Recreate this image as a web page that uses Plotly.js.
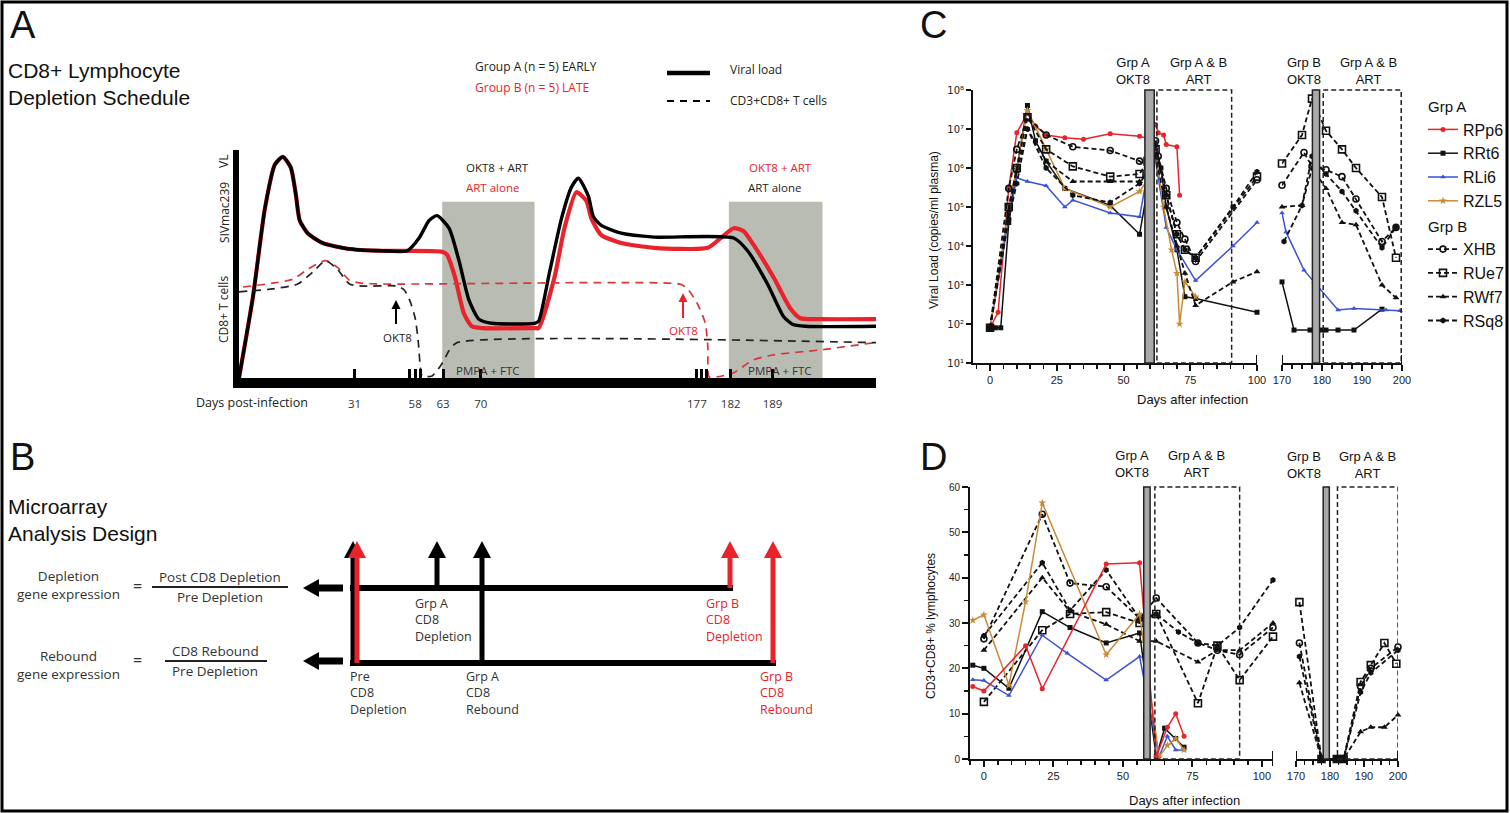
<!DOCTYPE html>
<html><head><meta charset="utf-8">
<script src="https://cdn.plot.ly/plotly-3.0.1.min.js"></script>
<style>html,body{margin:0;padding:0;background:#fff}#plot{width:1510px;height:813px}</style>
</head><body><div id="plot"></div>
<script>
// ================= DATA =================
// Panel A schematic (arbitrary units: time 0-100, level 0-100)
const schemVL_GrpA_x = [0,2.19,4.06,5.63,6.88,8.13,8.91,9.53,10.78,13.13,17.03,22.5,26.41,28.28,29.84,31.09,32.97,34.53,36.09,37.66,39.69,46.41,47.03,48.75,50.63,52.19,53.28,54.84,55.63,56.88,60.0,65.16,77.66,79.84,82.97,85.47,86.88,88.91,100];
const schemVL_GrpA_y = [0,35.6,74.2,93.6,97.0,92.3,80.7,69.1,63.5,59.2,56.7,55.8,55.8,61.4,69.1,71.2,65.7,51.5,34.3,25.8,24.0,24.0,24.9,46.4,70.0,83.7,87.6,79.8,70.8,66.9,63.5,61.8,61.4,55.8,41.2,27.0,23.6,22.7,22.7];
const schemVL_GrpB_x = [0,2.19,4.06,5.63,6.88,8.13,8.91,9.53,10.78,13.13,17.03,22.5,26.41,31.88,32.66,33.91,35.31,36.56,38.13,46.41,47.03,49.53,51.09,52.97,54.53,55.31,56.88,60.0,65.16,73.59,75.63,77.66,79.22,80.78,83.91,86.56,88.13,91.25,100];
const schemVL_GrpB_y = [0,35.6,74.2,93.6,97.0,92.3,80.7,69.1,63.5,59.2,56.7,55.8,55.8,55.4,54.1,44.2,28.3,22.7,21.9,21.9,21.9,44.2,65.7,81.5,77.7,70.0,62.7,59.2,57.1,57.1,61.4,65.7,64.4,58.4,44.2,30.5,26.2,25.8,25.8];
const schemCD8_GrpA_x = [0,5.31,9.22,11.56,13.59,15.47,17.34,19.38,24.84,25.94,26.88,27.66,28.13,28.44,28.75,30.31,31.88,32.97,34.22,100];
const schemCD8_GrpA_y = [37.8,39.1,41.2,46.4,51.5,47.6,41.2,40.3,40.3,38.6,33.5,26.2,16.3,5.6,0.9,0.9,6.4,12.0,15.5,15.5];
const schemCD8_GrpB_x = [0.63,5.31,8.44,10.78,13.59,15.47,17.34,19.38,69.2,70.3,71.9,73.2,73.6,73.8,75.0,77.6,80.7,83.8,91.2,99.5];
const schemCD8_GrpB_y = [39.9,41.6,43.3,47.6,51.5,48.5,42.9,41.5,41.2,39.5,32.9,24.1,13.6,0.5,0.5,2.2,7.9,10.1,12.3,15.4];
const schemTickPos = [18.13, 27.66, 32.03, 37.97, 71.88, 77.19, 83.75];
const schemTickText = ['31', '58', '63', '70', '177', '182', '189'];
const schemMinorTickPos = [26.72, 28.44, 72.66, 73.44];
const schemArtWindowA = [31.9, 46.4];
const schemArtWindowB = [76.9, 91.6];

// Panel C: viral load (copies/ml plasma) vs days after infection
const rpp6_vlDays = [0, 3, 7, 10, 14, 17, 21, 28, 35, 45, 56, 60, 62, 63, 65, 66, 70, 71];
const rpp6_vl     = [80, 200, 3e5, 8e6, 2.5e7, 1.2e7, 7e6, 6e6, 5.5e6, 7.5e6, 6.5e6, 5.5e6, 1.3e7, 8e6, 7e6, 4e6, 3.5e6, 2e5];
const rrt6_vlDays = [0, 2, 4, 7, 10, 14, 17, 21, 28, 45, 56, 59, 62, 64, 66, 70, 73, 77, 100];
const rrt6_vl     = [80, 80, 80, 4e4, 1e6, 4e7, 5e6, 1.5e6, 3e5, 1.1e5, 2e4, 3e5, 4e6, 1e6, 1e5, 8e3, 5e2, 4.5e2, 2e2];
const rli6_vlDays = [0, 7, 10, 14, 21, 28, 31, 45, 56, 59, 62, 66, 70, 77, 91, 100];
const rli6_vl     = [80, 5e4, 5.6e5, 4.5e5, 3.5e5, 1e5, 1.5e5, 7e4, 5.6e4, 7.4e5, 1.5e6, 3e4, 8e3, 1.3e3, 1e4, 4e4];
const rzl5_vlDays = [0, 7, 10, 14, 21, 28, 45, 56, 59, 62, 65, 68, 70, 71, 73, 77];
const rzl5_vl     = [80, 1e5, 1e6, 3e7, 3e6, 3e5, 1e5, 2.5e5, 5e5, 3e6, 1e5, 8e3, 2e3, 100, 1.2e3, 5e2];
const xhb_vlDays  = [0, 7, 10, 14, 21, 31, 45, 56, 59, 62, 63, 66, 70, 73, 77, 100];
const xhb_vl      = [80, 3e5, 3e6, 2e7, 7e6, 3.5e6, 2.8e6, 1.5e6, 1e6, 5e6, 2e6, 3e5, 4e4, 1.5e4, 4e3, 5e5];
const rue7_vlDays = [0, 7, 10, 14, 21, 31, 45, 56, 59, 62, 66, 70, 73, 77, 100];
const rue7_vl     = [80, 1e5, 1e6, 2e7, 3e6, 1.1e6, 6e5, 7e5, 1.5e6, 3e6, 2e5, 2e4, 8e3, 5e3, 6e5];
const rwf7_vlDays = [0, 7, 10, 14, 21, 31, 45, 56, 59, 62, 66, 70, 73, 77, 91, 100];
const rwf7_vl     = [80, 8e4, 8e5, 1e7, 1.5e6, 4.5e5, 4.5e5, 4.5e5, 8e5, 2e6, 1e5, 1e4, 2e3, 3e2, 1.2e3, 2.2e3];
const rsq8_vlDays = [0, 7, 10, 14, 21, 31, 45, 56, 59, 62, 66, 70, 73, 77, 91, 100];
const rsq8_vl     = [80, 5e4, 4e5, 1e7, 1e6, 2e5, 1.3e5, 4e5, 8e5, 4e6, 2e5, 2e4, 8e3, 5e3, 1e5, 8e5];
// late window (days 170-200)
const rrt6_vlDaysLate = [170, 173, 177, 178, 180, 181, 184, 188, 195];
const rrt6_vlLate     = [1.2e3, 70, 70, 70, 70, 70, 70, 70, 2.4e2];
const rli6_vlDaysLate = [170, 171, 175.5, 178, 184, 188, 196, 199.5];
const rli6_vlLate     = [7e4, 2.3e4, 2.4e3, 1.2e3, 2.3e2, 2.5e2, 2.3e2, 2.2e2];
const xhb_vlDaysLate  = [170, 175.5, 177.5, 181, 185, 188.5, 195, 198.5];
const xhb_vlLate      = [3.6e5, 2.5e6, 1.1e6, 9e5, 6e5, 1.6e5, 1.3e4, 3e4];
const rue7_vlDaysLate = [170, 175, 177.5, 181, 185, 188.5, 195, 198.5];
const rue7_vlLate     = [1.3e6, 7e6, 6e7, 9e6, 3e6, 1e6, 1.8e5, 5e3];
const rwf7_vlDaysLate = [170, 175, 177.5, 181, 185, 188.5, 195, 198.5];
const rwf7_vlLate     = [1e5, 1.1e5, 1e6, 3e5, 4e4, 3.5e4, 1e3, 4.7e2];
const rsq8_vlDaysLate = [170.5, 175, 177.5, 181, 185, 188.5, 195, 198.5];
const rsq8_vlLate     = [1.3e4, 1.1e5, 2e6, 7e5, 2.5e5, 8e4, 9e3, 3e4];
const vlTickVals = [1e1, 1e2, 1e3, 1e4, 1e5, 1e6, 1e7, 1e8];
const vlTickText = ['10\u00B9', '10\u00B2', '10\u00B3', '10\u2074', '10\u2075', '10\u2076', '10\u2077', '10\u2078'];

// Panel D: CD3+CD8+ % lymphocytes
const rpp6_cd8Days = [-4, 0, 15, 21, 44, 56, 62, 66, 69, 72];
const rpp6_cd8     = [16, 15, 25, 15.5, 43, 43.3, 0.5, 7, 10, 5];
const rrt6_cd8Days = [-4, 0, 9, 21, 31, 44, 56, 62, 65, 69, 72];
const rrt6_cd8     = [20.7, 20, 15.6, 32.5, 29, 25.6, 27.8, 0.5, 6.8, 4.5, 2.6];
const rli6_cd8Days = [-4, 0, 9, 21, 30, 44, 56, 63, 66, 69, 72];
const rli6_cd8     = [17.5, 17.3, 14, 27.3, 23.3, 17.4, 22.6, 0.5, 5, 2, 2];
const rzl5_cd8Days = [-4, 0, 9, 15, 21, 44, 56, 63, 66, 69, 72];
const rzl5_cd8     = [30.6, 31.8, 16.3, 34.7, 56.5, 23, 32, 0.5, 3, 4.5, 2];
const xhb_cd8Days  = [0, 21, 31, 44, 56, 62, 77, 84, 92, 104];
const xhb_cd8      = [26.5, 54, 38.8, 38, 31, 35.5, 25.6, 24, 23, 29];
const rue7_cd8Days = [0, 21, 31, 44, 56, 62, 77, 84, 92, 104];
const rue7_cd8     = [12.6, 28.4, 32, 32.4, 30, 32, 12.3, 25, 17.4, 27];
const rwf7_cd8Days = [0, 21, 31, 44, 56, 62, 77, 84, 92, 104];
const rwf7_cd8     = [24, 40, 32.5, 29.7, 26, 26, 21.4, 24, 24, 30];
const rsq8_cd8Days = [0, 21, 31, 44, 56, 62, 70, 77, 84, 92, 104];
const rsq8_cd8     = [27.2, 43.3, 32.8, 41.7, 31, 32, 28, 25.6, 25, 29, 39.5];
const xhb_cd8DaysLate  = [171, 177.5, 182, 184, 189, 192, 200];
const xhb_cd8Late      = [25.6, 0, 0, 0, 16, 20, 24.7];
const rue7_cd8DaysLate = [171, 177.5, 182, 184, 189, 192, 196, 199.5];
const rue7_cd8Late     = [34.6, 0, 0, 0, 17, 20.7, 25.6, 21];
const rwf7_cd8DaysLate = [171, 177.5, 182, 184, 189, 192, 196, 200];
const rwf7_cd8Late     = [16.8, 0, 0, 0, 6, 7, 7, 9.7];
const rsq8_cd8DaysLate = [171, 177.5, 182, 184, 189, 192, 200];
const rsq8_cd8Late     = [22.6, 0, 0, 0, 14.7, 19, 24];

// Treatment windows (days)
const okt8GrpA_C = [58, 61.5], artEarly_C = [62.5, 90.5];
const okt8GrpB_C = [177.6, 179.4], artLate_C = [180.3, 199.8];
const okt8GrpA_D = [57.5, 59.8], artEarly_D = [61.5, 92];
const okt8GrpB_D = [178, 179.8], artLate_D = [182.2, 200];

// ================= LAYOUT HELPERS =================
const W = 1510, H = 813;
const PX = x => x / W, PY = y => 1 - y / H;
const SANS = 'Liberation Sans, Arial, sans-serif';
const MYR = 'Open Sans, Noto Sans, sans-serif';
const RED = '#e8232b';

const st = {
  RPp6: {color: RED, width: 1.5, dash: 'solid', symbol: 'circle', size: 5, group: 'A', title: 'Grp A'},
  RRt6: {color: '#111', width: 1.5, dash: 'solid', symbol: 'square', size: 5, group: 'A'},
  RLi6: {color: '#3d52d5', width: 1.5, dash: 'solid', symbol: 'triangle-up', size: 5, group: 'A'},
  RZL5: {color: '#c88a35', width: 1.5, dash: 'solid', symbol: 'star', size: 6, group: 'A'},
  XHB:  {color: '#111', width: 1.8, dash: '5px,3px', symbol: 'circle-open', size: 6, mlw: 1.6, group: 'B', title: 'Grp B'},
  RUe7: {color: '#111', width: 1.8, dash: '5px,3px', symbol: 'square-open', size: 7, mlw: 1.6, group: 'B'},
  RWf7: {color: '#111', width: 1.8, dash: '5px,3px', symbol: 'triangle-up', size: 6, group: 'B'},
  RSq8: {color: '#111', width: 1.8, dash: '5px,3px', symbol: 'hexagon', size: 6, group: 'B'}
};
function tr(name, x, y, xa, ya, legend) {
  const s = st[name];
  const t = {type: 'scatter', mode: 'lines+markers', name, x, y, xaxis: xa, yaxis: ya, cliponaxis: false,
    line: {color: s.color, width: s.width, dash: s.dash},
    marker: {symbol: s.symbol, size: s.size, color: s.color, line: {color: s.color, width: s.mlw || 0}},
    showlegend: !!legend, legendgroup: s.group, hoverinfo: 'skip'};
  if (legend && s.title) t.legendgrouptitle = {text: s.title, font: {size: 15, family: SANS}};
  return t;
}
function schem(x, y, color, width, dash) {
  return {type: 'scatter', mode: 'lines', x, y, xaxis: 'x', yaxis: 'y', showlegend: false, hoverinfo: 'skip',
    line: {color, width, dash, shape: 'spline', smoothing: 0.6}};
}

const traces = [
  schem(schemVL_GrpB_x, schemVL_GrpB_y, RED, 4.2, 'solid'),
  schem(schemVL_GrpA_x, schemVL_GrpA_y, '#000', 3.4, 'solid'),
  schem(schemCD8_GrpB_x, schemCD8_GrpB_y, '#d9363b', 1.7, '8px,6px'),
  schem(schemCD8_GrpA_x, schemCD8_GrpA_y, '#222', 1.7, '8px,6px'),
  // Panel C left (legend)
  tr('RPp6', rpp6_vlDays, rpp6_vl, 'x2', 'y2', true),
  tr('RRt6', rrt6_vlDays, rrt6_vl, 'x2', 'y2', true),
  tr('RLi6', rli6_vlDays, rli6_vl, 'x2', 'y2', true),
  tr('RZL5', rzl5_vlDays, rzl5_vl, 'x2', 'y2', true),
  tr('XHB', xhb_vlDays, xhb_vl, 'x2', 'y2', true),
  tr('RUe7', rue7_vlDays, rue7_vl, 'x2', 'y2', true),
  tr('RWf7', rwf7_vlDays, rwf7_vl, 'x2', 'y2', true),
  tr('RSq8', rsq8_vlDays, rsq8_vl, 'x2', 'y2', true),
  // Panel C right
  tr('RRt6', rrt6_vlDaysLate, rrt6_vlLate, 'x3', 'y2'),
  tr('RLi6', rli6_vlDaysLate, rli6_vlLate, 'x3', 'y2'),
  tr('XHB', xhb_vlDaysLate, xhb_vlLate, 'x3', 'y2'),
  tr('RUe7', rue7_vlDaysLate, rue7_vlLate, 'x3', 'y2'),
  tr('RWf7', rwf7_vlDaysLate, rwf7_vlLate, 'x3', 'y2'),
  tr('RSq8', rsq8_vlDaysLate, rsq8_vlLate, 'x3', 'y2'),
  // Panel D left
  tr('XHB', xhb_cd8Days, xhb_cd8, 'x4', 'y4'),
  tr('RUe7', rue7_cd8Days, rue7_cd8, 'x4', 'y4'),
  tr('RWf7', rwf7_cd8Days, rwf7_cd8, 'x4', 'y4'),
  tr('RSq8', rsq8_cd8Days, rsq8_cd8, 'x4', 'y4'),
  tr('RRt6', rrt6_cd8Days, rrt6_cd8, 'x4', 'y4'),
  tr('RLi6', rli6_cd8Days, rli6_cd8, 'x4', 'y4'),
  tr('RZL5', rzl5_cd8Days, rzl5_cd8, 'x4', 'y4'),
  tr('RPp6', rpp6_cd8Days, rpp6_cd8, 'x4', 'y4'),
  // Panel D right
  tr('XHB', xhb_cd8DaysLate, xhb_cd8Late, 'x5', 'y4'),
  tr('RUe7', rue7_cd8DaysLate, rue7_cd8Late, 'x5', 'y4'),
  tr('RWf7', rwf7_cd8DaysLate, rwf7_cd8Late, 'x5', 'y4'),
  tr('RSq8', rsq8_cd8DaysLate, rsq8_cd8Late, 'x5', 'y4')
];

// ================= AXES =================
function dataAx(domain, range, anchor, tickvals, minorDtick, extra) {
  return Object.assign({domain: [PX(domain[0]), PX(domain[1])], range, anchor, showline: true, linewidth: 2, linecolor: '#111',
    ticks: 'outside', ticklen: 6, tickwidth: 2, tickcolor: '#111', tickvals,
    minor: {dtick: minorDtick, tick0: tickvals[0], ticks: 'outside', ticklen: 4, tickwidth: 1.5, tickcolor: '#111'},
    tickfont: {family: SANS, size: 11, color: '#222'}, showgrid: false, zeroline: false, fixedrange: true}, extra || {});
}
const layout = {
  width: W, height: H, margin: {l: 0, r: 0, t: 0, b: 0}, paper_bgcolor: '#fff', plot_bgcolor: 'rgba(0,0,0,0)',
  font: {family: SANS, size: 12, color: '#111'}, hovermode: false, showlegend: true,
  legend: {x: PX(1423), y: PY(90), xanchor: 'left', yanchor: 'top', font: {family: SANS, size: 16, color: '#111'},
    tracegroupgap: 2, itemwidth: 30, bgcolor: 'rgba(0,0,0,0)', traceorder: 'grouped'},
  xaxis: {domain: [PX(239), PX(876)], range: [0, 100], anchor: 'y', showline: true, linewidth: 10, linecolor: '#000',
    ticks: 'inside', ticklen: 9, tickwidth: 3, tickcolor: '#000', tickvals: schemTickPos, ticktext: schemTickText,
    tickfont: {family: MYR, size: 11.5, color: '#333'}, ticklabelstandoff: 6,
    minor: {tickmode: 'array', tickvals: schemMinorTickPos, ticks: 'inside', ticklen: 9, tickwidth: 3, tickcolor: '#000'},
    showgrid: false, zeroline: false, fixedrange: true},
  yaxis: {domain: [PY(378), PY(150)], range: [0, 100], anchor: 'x', showline: true, linewidth: 6, linecolor: '#000',
    ticks: '', showticklabels: false, showgrid: false, zeroline: false, fixedrange: true},
  xaxis2: dataAx([973, 1257], [-6.4, 100], 'y2', [0, 25, 50, 75, 100], 5),
  yaxis2: {domain: [PY(363), PY(90)], type: 'log', range: [1, 8], anchor: 'x2', showline: true, linewidth: 2, linecolor: '#111',
    ticks: 'outside', ticklen: 5, tickwidth: 2, tickcolor: '#111', tickvals: vlTickVals, ticktext: vlTickText,
    tickfont: {family: 'DejaVu Sans, sans-serif', size: 10, color: '#222'}, showgrid: false, zeroline: false, fixedrange: true},
  xaxis3: dataAx([1282, 1402], [170, 200], 'y2', [170, 180, 190, 200], 2.5),
  xaxis4: dataAx([970, 1273], [-5, 104], 'y4', [0, 25, 50, 75, 100], 5),
  yaxis4: dataAx([0, 0], [0, 60], 'x4', [0, 10, 20, 30, 40, 50, 60], 5, {domain: [PY(759), PY(487)], tickfont: {family: SANS, size: 10, color: '#222'}}),
  xaxis5: dataAx([1296, 1398], [170, 200], 'y4', [170, 180, 190, 200], 2.5),
  shapes: [], annotations: []
};

// ================= SHAPES =================
const S = layout.shapes, A = layout.annotations;
const pline = (x0, y0, x1, y1, color, width, dash) => S.push({type: 'line', xref: 'paper', yref: 'paper',
  x0: PX(x0), y0: PY(y0), x1: PX(x1), y1: PY(y1), line: {color, width, dash: dash || 'solid'}});
// arrow drawn as a line plus a filled triangular head (head tip at xh,yh; tail at xt,yt; pixel units)
function arrow(xh, yh, xt, yt, color, width, hl, hw) {
  const dx = xh - xt, dy = yh - yt, L = Math.hypot(dx, dy), ux = dx / L, uy = dy / L;
  const bx = xh - ux * hl, by = yh - uy * hl, nx = -uy, ny = ux;
  pline(xt, yt, bx + ux * 1, by + uy * 1, color, width);
  S.push({type: 'path', xref: 'paper', yref: 'paper', fillcolor: color, line: {width: 0},
    path: `M ${PX(bx + nx * hw)},${PY(by + ny * hw)} L ${PX(xh)},${PY(yh)} L ${PX(bx - nx * hw)},${PY(by - ny * hw)} Z`});
}
// panel A grey ART windows
[schemArtWindowA, schemArtWindowB].forEach(w => S.push({type: 'rect', xref: 'x', yref: 'y', x0: w[0], x1: w[1], y0: 0, y1: 77.3,
  fillcolor: '#b9bcb3', line: {width: 0}, layer: 'below'}));
// panel A legend lines
pline(667, 73, 710, 73, '#000', 4.5);
pline(667, 101, 710, 101, '#000', 2, '7px,6px');
// panel A OKT8 arrows
arrow(396, 300, 396, 324, '#000', 2, 9, 4.5);
arrow(683, 293, 683, 318, RED, 2, 9, 4.5);
// panel B bars & fraction lines
pline(350, 588, 733, 588, '#000', 6);
pline(350, 663, 776, 663, '#000', 6);
pline(152, 587, 288, 587, '#222', 1.8);
pline(165, 661, 267, 661, '#222', 1.8);
arrow(303, 588, 343, 588, '#000', 7, 16, 9);
arrow(303, 661, 343, 661, '#000', 7, 16, 9);
arrow(353, 541, 353, 663, '#000', 5, 17, 9);
arrow(437, 541, 437, 588, '#000', 5, 17, 9);
arrow(482, 541, 482, 663, '#000', 5, 17, 9);
arrow(357, 541, 357, 663, RED, 5, 17, 9);
arrow(730, 541, 730, 588, RED, 5, 17, 9);
arrow(773, 541, 773, 663, RED, 5, 17, 9);
// panels C/D treatment windows
function windows(xa, ya, okt8, art) {
  S.push({type: 'rect', xref: xa, yref: ya + ' domain', x0: okt8[0], x1: okt8[1], y0: 0, y1: 1,
    fillcolor: '#a9a9a9', line: {color: '#222', width: 1.5}});
  S.push({type: 'rect', xref: xa, yref: ya + ' domain', x0: art[0], x1: art[1], y0: 0, y1: 1,
    fillcolor: 'rgba(0,0,0,0)', line: {color: '#222', width: 1.5, dash: '5px,3px'}});
}
windows('x2', 'y2', okt8GrpA_C, artEarly_C);
windows('x3', 'y2', okt8GrpB_C, artLate_C);
windows('x4', 'y4', okt8GrpA_D, artEarly_D);
windows('x5', 'y4', okt8GrpB_D, artLate_D);
// axis end bars
function endBar(xa, xv, yAxisPx) {
  S.push({type: 'line', xref: xa, yref: 'paper', x0: xv, x1: xv, y0: PY(yAxisPx + 7), y1: PY(yAxisPx - 8), line: {color: '#111', width: 2}});
}
endBar('x2', 100, 363); endBar('x3', 170, 363); endBar('x3', 200, 363);
endBar('x4', 104, 759); endBar('x5', 170, 759); endBar('x5', 200, 759);
// outer border
S.push({type: 'rect', xref: 'paper', yref: 'paper', x0: PX(2), x1: PX(1507), y0: PY(811), y1: PY(2), line: {color: '#000', width: 3}, fillcolor: 'rgba(0,0,0,0)'});

// ================= TEXT =================
function T(x, y, text, o) {
  o = o || {};
  A.push({xref: 'paper', yref: 'paper', x: PX(x), y: PY(y), text, showarrow: false, xanchor: o.xa || 'center', yanchor: 'middle',
    align: o.al || 'center', textangle: o.a || 0, font: {family: o.f || SANS, size: o.s || 12, color: o.c || '#111'}});
}
// Panel A
T(8, 25, 'A', {xa: 'left', s: 38});
T(6, 84, 'CD8+ Lymphocyte<br>Depletion Schedule', {xa: 'left', al: 'left', s: 21});
T(473, 66, 'Group A (n = 5) EARLY', {xa: 'left', f: MYR, s: 12, c: '#222'});
T(473, 88, 'Group B (n = 5) LATE', {xa: 'left', f: MYR, s: 12, c: RED});
T(728, 70, 'Viral load', {xa: 'left', f: MYR, s: 12, c: '#222'});
T(728, 101, 'CD3+CD8+ T cells', {xa: 'left', f: MYR, s: 12, c: '#222'});
T(224, 213, 'SIVmac239', {a: -90, f: MYR, s: 12, c: '#222'});
T(224, 162, 'VL', {a: -90, f: MYR, s: 12, c: '#222'});
T(224, 310, 'CD8+ T cells', {a: -90, f: MYR, s: 12, c: '#222'});
T(310, 403, 'Days post-infection', {xa: 'right', f: MYR, s: 12.5, c: '#222'});
T(497, 167, 'OKT8 + ART', {f: MYR, s: 11.5, c: '#222'});
T(492, 187, 'ART alone', {f: MYR, s: 11.5, c: RED});
T(780, 167, 'OKT8 + ART', {f: MYR, s: 11.5, c: RED});
T(775, 187, 'ART alone', {f: MYR, s: 11.5, c: '#222'});
T(488, 370, 'PMPA + FTC', {f: MYR, s: 11.5, c: '#333'});
T(780, 370, 'PMPA + FTC', {f: MYR, s: 11.5, c: '#333'});
T(397, 338, 'OKT8', {f: MYR, s: 11.5, c: '#222'});
T(683, 330, 'OKT8', {f: MYR, s: 11.5, c: RED});
// Panel B
T(8, 457, 'B', {xa: 'left', s: 38});
T(6, 520, 'Microarray<br>Analysis Design', {xa: 'left', al: 'left', s: 21});
T(68, 585, 'Depletion<br>gene expression', {f: MYR, s: 13.5, c: '#333'});
T(137, 586, '=', {f: MYR, s: 16, c: '#333'});
T(220, 577, 'Post CD8 Depletion', {f: MYR, s: 13.5, c: '#333'});
T(220, 597, 'Pre Depletion', {f: MYR, s: 13.5, c: '#333'});
T(68, 665, 'Rebound<br>gene expression', {f: MYR, s: 13.5, c: '#333'});
T(137, 660, '=', {f: MYR, s: 16, c: '#333'});
T(215, 651, 'CD8 Rebound', {f: MYR, s: 13.5, c: '#333'});
T(215, 671, 'Pre Depletion', {f: MYR, s: 13.5, c: '#333'});
T(413, 620, 'Grp A<br>CD8<br>Depletion', {xa: 'left', al: 'left', f: MYR, s: 12.5, c: '#333'});
T(348, 693, 'Pre<br>CD8<br>Depletion', {xa: 'left', al: 'left', f: MYR, s: 12.5, c: '#333'});
T(464, 693, 'Grp A<br>CD8<br>Rebound', {xa: 'left', al: 'left', f: MYR, s: 12.5, c: '#333'});
T(704, 620, 'Grp B<br>CD8<br>Depletion', {xa: 'left', al: 'left', f: MYR, s: 12.5, c: RED});
T(758, 693, 'Grp B<br>CD8<br>Rebound', {xa: 'left', al: 'left', f: MYR, s: 12.5, c: RED});
// Panel C
T(918, 25, 'C', {xa: 'left', s: 38});
T(1133, 71, 'Grp A<br>OKT8', {s: 13});
T(1198, 71, 'Grp A &amp; B<br>ART', {s: 13});
T(1304, 71, 'Grp B<br>OKT8', {s: 13});
T(1368, 71, 'Grp A &amp; B<br>ART', {s: 13});
T(934, 230, 'Viral Load (copies/ml plasma)', {a: -90, s: 12});
T(1192, 399, 'Days after infection', {s: 13});
// Panel D
T(918, 457, 'D', {xa: 'left', s: 38});
T(1132, 464, 'Grp A<br>OKT8', {s: 13});
T(1196, 464, 'Grp A &amp; B<br>ART', {s: 13});
T(1304, 465, 'Grp B<br>OKT8', {s: 13});
T(1367, 465, 'Grp A &amp; B<br>ART', {s: 13});
T(931, 626, 'CD3+CD8+ % lymphocytes', {a: -90, s: 12});
T(1184, 800, 'Days after infection', {s: 13});

Plotly.newPlot('plot', traces, layout, {staticPlot: true, displayModeBar: false});
</script></body></html>
